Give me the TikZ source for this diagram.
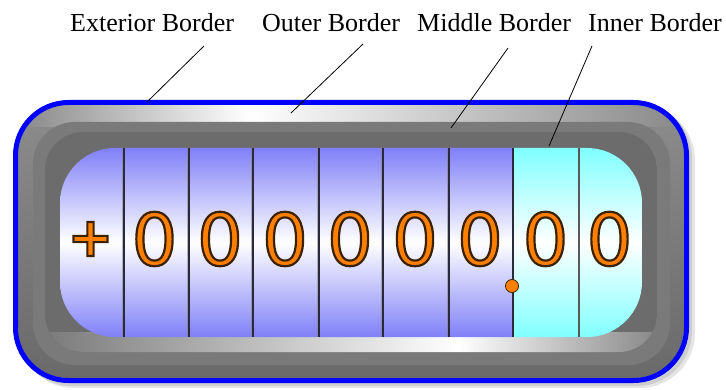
\documentclass[tikz,border=0pt]{standalone}
\usepackage{fontspec}
\setmainfont{Liberation Serif}
\newfontfamily\digfont{DejaVu Sans}
\usetikzlibrary{calc}
\definecolor{orng}{HTML}{FF8000}
\definecolor{odk}{HTML}{3A2200}
\definecolor{cellblue}{HTML}{8080F8}
\definecolor{cellcyan}{HTML}{80FFFF}
\definecolor{gmid}{HTML}{7A7A7A}
\definecolor{ginner}{HTML}{6C6C6C}
\definecolor{gtop}{HTML}{8C8C8C}
\definecolor{gbot}{HTML}{6A6A6A}
\definecolor{gedge}{HTML}{888888}
\definecolor{divdark}{HTML}{2A2A3A}
\newcommand\olt[1]{\begingroup\color{orng}\special{pdf:code q 2 Tr 2.2 w 0.23 0.13 0 RG}#1\special{pdf:code Q}\endgroup}
\tikzset{
  lbl/.style={anchor=base west,inner sep=0pt,font=\fontsize{26}{30}\selectfont},
  leader/.style={draw=black,line width=0.8pt},
  digit/.style={anchor=center,inner sep=0pt,font=\digfont\fontsize{72}{80}\selectfont},
  plussign/.style={anchor=center,inner sep=0pt,font=\digfont\bfseries\fontsize{54}{60}\selectfont},
  divider/.style={draw=divdark,line width=1.6pt},
  dividerlight/.style={draw=gray,line width=1.2pt,opacity=0.5},
}
\begin{document}
\begin{tikzpicture}[x=1pt,y=1pt]
\useasboundingbox (0,0) rectangle (726,389);
% shadow
\fill[black,opacity=0.10,rounded corners=55pt] (19,1) rectangle (695,284);
\fill[black,opacity=0.10,rounded corners=55pt] (17,3) rectangle (692,286);
% outer band
\begin{scope}
  \clip[rounded corners=50pt] (18,11) rectangle (684,284);
  \shade[top color=gtop,bottom color=gbot] (18,11) rectangle (684,284);
  \shade[left color=gedge,right color=white] (18,262) rectangle (250,284);
  \shade[left color=white,right color=gedge] (250,262) rectangle (684,284);
\end{scope}
% middle band
\fill[gmid,rounded corners=42pt] (33,24) rectangle (670,267);
% inner band
\begin{scope}
  \clip[rounded corners=38pt] (45,37) rectangle (657,257);
  \fill[ginner] (45,37) rectangle (657,257);
  \shade[left color=gedge!90!black,right color=white] (45,37) rectangle (458,57);
  \shade[left color=white,right color=gedge] (458,37) rectangle (657,57);
\end{scope}
% display cells
\begin{scope}
  \clip[rounded corners=55pt] (60,52) rectangle (642,241);
  \shade[top color=cellblue,bottom color=cellblue,middle color=white] (60,52) rectangle (513,241);
  \shade[top color=cellcyan,bottom color=cellcyan,middle color=white] (513,52) rectangle (642,241);
\end{scope}
% dividers
\foreach \xx in {124,189,253,319,383,449}{
  \draw[dividerlight] (\xx-1.6,52) -- (\xx-1.6,241);
  \draw[divider] (\xx,52) -- (\xx,241);
}
\draw[divider] (513,52) -- (513,241);
\draw[draw=gray!70!black,line width=1.3pt] (579,52) -- (579,241);
% exterior border
\draw[blue,line width=5pt,rounded corners=53pt] (15.5,8.5) rectangle (686.5,286.5);
% digits
\node[plussign] (dp) at (90.5,150) {\olt{+}};
\node[digit] (d1) at (154.5,150) {\olt{0}};
\node[digit] (d2) at (220,150) {\olt{0}};
\node[digit] (d3) at (285,150) {\olt{0}};
\node[digit] (d4) at (350,150) {\olt{0}};
\node[digit] (d5) at (415,150) {\olt{0}};
\node[digit] (d6) at (480,150) {\olt{0}};
\node[digit] (d7) at (545.5,150) {\olt{0}};
\node[digit] (d8) at (609.5,150) {\olt{0}};
\node[circle,fill=orng,draw=odk,line width=0.8pt,minimum size=13pt,inner sep=0pt] (pt) at (512,103) {};
% labels
\node[lbl] (lext) at (70,357) {Exterior Border};
\node[lbl] (lout) at (262,357) {Outer Border};
\node[lbl] (lmid) at (417,357) {Middle Border};
\node[lbl] (linn) at (588,357) {Inner Border};
\coordinate (s1) at (204,343); \coordinate (e1) at (147,287);
\coordinate (s2) at (363,345); \coordinate (e2) at (291,276);
\coordinate (s3) at (508,341); \coordinate (e3) at (451,261);
\coordinate (s4) at (592,343); \coordinate (e4) at (549,243);
\draw[leader] (s1) -- (e1);
\draw[leader] (s2) -- (e2);
\draw[leader] (s3) -- (e3);
\draw[leader] (s4) -- (e4);
\end{tikzpicture}
\end{document}
